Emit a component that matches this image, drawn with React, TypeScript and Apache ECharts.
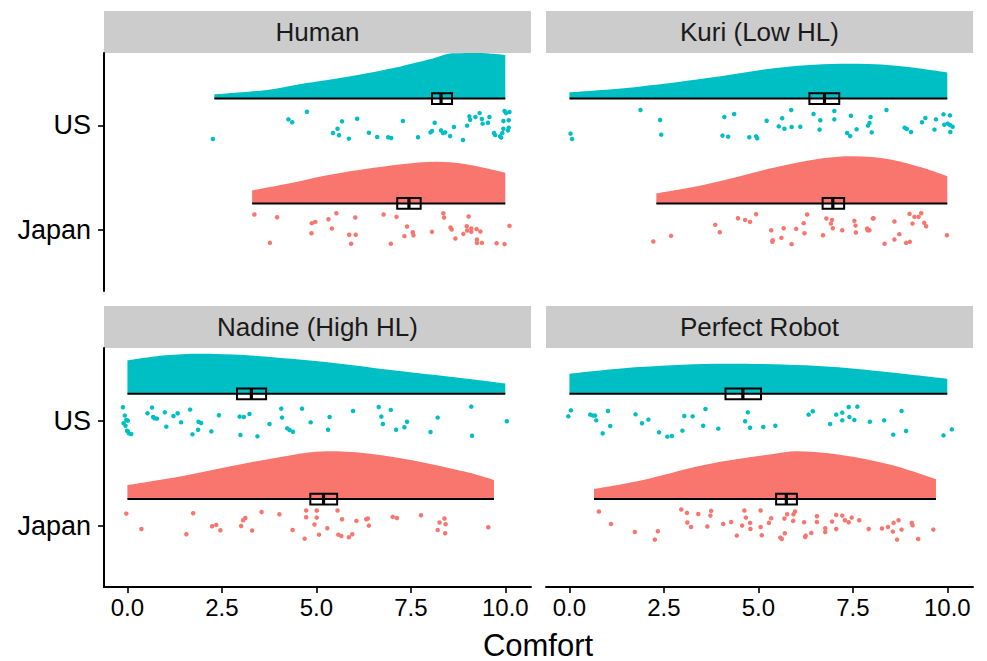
import React, { useEffect, useRef } from "react";
import * as echarts from "echarts";

const facetTitles = ["Human", "Kuri (Low HL)", "Nadine (High HL)", "Perfect Robot"];
const countryLabels: Record<number, string> = { 1: "Japan", 2: "US" };
const xTicks = [0, 2.5, 5, 7.5, 10];
const yTicks = [1, 2];
const CYAN = "#00BFC4";
const SALMON = "#F8766D";
const NUDGE = 0.255;
const BOX_HALF = 0.051;

// half-violin density profiles: [comfort, height in y units]
const humanUSDensity = [[2.3, 0.04], [3.7, 0.083], [4.7, 0.146], [5.5, 0.19], [6.3, 0.24], [7.2, 0.305], [8.1, 0.384], [8.6, 0.432], [9.3, 0.435], [10, 0.416]];
const humanJPDensity = [[3.3, 0.124], [4.4, 0.2], [5.4, 0.276], [7.2, 0.371], [8.2, 0.397], [9.0, 0.371], [10, 0.292]];
const kuriUSDensity = [[0, 0.06], [1.85, 0.114], [3.6, 0.193], [5.4, 0.289], [6.7, 0.327], [7.6, 0.333], [8.9, 0.305], [10, 0.25]];
const kuriJPDensity = [[2.3, 0.095], [3.6, 0.18], [5.4, 0.34], [6.7, 0.43], [7.5, 0.45], [8.5, 0.42], [9.35, 0.34], [10, 0.26]];
const nadineUSDensity = [[0, 0.317], [1.0, 0.365], [1.9, 0.381], [2.8, 0.374], [3.7, 0.352], [5.4, 0.295], [7.2, 0.216], [9.0, 0.143], [10, 0.098]];
const nadineJPDensity = [[0, 0.133], [1.5, 0.222], [2.8, 0.317], [4.1, 0.403], [5.3, 0.454], [6.3, 0.435], [7.6, 0.365], [9.0, 0.254], [9.7, 0.181]];
const perfectUSDensity = [[0, 0.19], [1.85, 0.254], [4.15, 0.286], [6.25, 0.27], [8.0, 0.222], [10, 0.143]];
const perfectJPDensity = [[0.65, 0.095], [1.85, 0.174], [3.6, 0.327], [5.4, 0.429], [6.0, 0.454], [7.15, 0.422], [8.5, 0.327], [9.7, 0.19]];

// summaries: [min, max, mean - se, mean, mean + se]
const humanUSSummary = [2.3, 10, 8.06, 8.3, 8.59];
const humanJPSummary = [3.3, 10, 7.14, 7.45, 7.76];
const kuriUSSummary = [0, 10, 6.35, 6.75, 7.14];
const kuriJPSummary = [2.3, 10, 6.7, 6.97, 7.27];
const nadineUSSummary = [0, 10, 2.9, 3.28, 3.67];
const nadineJPSummary = [0, 9.7, 4.84, 5.19, 5.55];
const perfectUSSummary = [0, 10, 4.13, 4.59, 5.07];
const perfectJPSummary = [0.65, 9.7, 5.47, 5.74, 6.02];

// raw points: [comfort, vertical jitter]
const humanUSPoints = [[2.26,-0.13],[4.26,0.057],[4.36,0.029],[4.75,0.13],[5.44,-0.073],[5.56,-0.032],[5.6,-0.095],[5.68,0.038],[5.86,-0.127],[6.08,0.063],[6.39,-0.07],[6.61,-0.111],[6.9,-0.114],[6.98,-0.121],[7.29,0.041],[7.69,-0.114],[8.02,-0.067],[8.06,-0.054],[8.13,0.025],[8.3,-0.048],[8.35,-0.073],[8.41,-0.067],[8.54,-0.102],[8.64,-0.016],[8.88,-0.14],[8.99,-0.003],[9.05,0.086],[9.07,0.054],[9.21,0.079],[9.32,0.117],[9.38,0.06],[9.4,0.016],[9.54,0.025],[9.58,0.079],[9.7,-0.073],[9.73,-0.092],[9.86,-0.105],[9.89,-0.117],[9.92,-0.073],[9.95,0.041],[9.95,-0.032],[9.98,0.137],[10.02,0.117],[10.09,0.048],[10.09,-0.022],[10.11,0.127],[10.07,-0.048]];
const humanJPPoints = [[3.36,0.149],[3.96,0.124],[3.77,-0.121],[4.88,0.067],[4.97,0.079],[4.87,-0.029],[5.32,0.105],[5.41,0.016],[5.53,0.162],[5.87,-0.044],[6.03,0.121],[6.04,-0.044],[5.92,-0.13],[6.78,0.149],[6.97,-0.13],[7.12,0.127],[7.4,0.035],[7.33,-0.057],[7.55,-0.019],[7.57,-0.048],[8.06,-0.016],[8.36,0.162],[8.38,0.121],[8.55,0.025],[8.58,0.006],[8.68,-0.079],[8.89,-0.035],[8.98,0.038],[9.03,0.13],[8.99,-0.003],[9.1,0.016],[9.1,-0.016],[9.24,0.01],[9.34,-0.013],[9.25,-0.089],[9.25,-0.121],[9.38,-0.121],[9.77,-0.124],[9.98,-0.133],[10.11,0.041]];
const kuriUSPoints = [[0.03,-0.079],[0.07,-0.13],[1.88,0.146],[2.4,0.051],[2.43,-0.089],[4.1,0.079],[4.36,0.108],[4.05,-0.098],[4.2,-0.108],[4.76,-0.114],[4.94,-0.105],[4.97,-0.124],[5.22,0.044],[5.54,-0.01],[5.63,0.067],[5.69,-0.032],[5.88,-0.016],[5.87,0.146],[6.11,-0.013],[6.46,0.108],[6.64,0.048],[6.62,-0.041],[7.01,0.137],[7.01,0.057],[7.45,0.092],[7.35,-0.073],[7.43,-0.102],[7.6,-0.038],[7.97,0.079],[7.94,0.022],[7.9,-0.003],[8.0,-0.067],[8.39,0.146],[8.87,-0.022],[8.93,-0.035],[9.04,-0.063],[9.33,0.029],[9.42,0.07],[9.66,-0.041],[9.7,0.057],[9.9,0.105],[10.07,0.095],[9.92,0.006],[10.01,0.016],[10.07,0.003],[10.14,-0.013],[10.08,-0.063]];
const kuriJPPoints = [[2.22,-0.108],[2.69,-0.054],[3.86,0.051],[3.98,-0.019],[4.46,0.114],[4.65,0.098],[4.78,0.079],[4.94,0.152],[5.34,0.0],[5.38,-0.095],[5.37,-0.111],[5.61,-0.073],[5.67,0.019],[5.88,-0.133],[6.0,0.013],[6.2,0.067],[6.22,-0.029],[6.29,0.149],[6.71,-0.048],[6.8,0.111],[6.95,0.098],[6.92,0.063],[6.97,0.019],[7.22,0.0],[7.54,0.089],[7.57,0.044],[7.58,-0.022],[7.88,0.016],[7.94,0.0],[7.89,0.0],[8.03,0.111],[8.05,0.114],[8.34,-0.13],[8.6,0.083],[8.6,-0.089],[8.73,-0.038],[8.91,-0.121],[9.0,0.156],[9.01,-0.111],[9.08,0.063],[9.13,0.127],[9.24,0.127],[9.31,0.162],[9.39,0.07],[9.44,0.038],[9.99,-0.048]];
const nadineUSPoints = [[-0.12,0.127],[-0.07,0.048],[-0.03,0.006],[-0.1,-0.025],[0.01,0.0],[-0.05,-0.048],[-0.01,-0.095],[0.04,-0.121],[0.1,-0.127],[0.01,-0.102],[0.53,0.07],[0.65,0.124],[0.68,0.035],[0.72,0.022],[0.78,0.019],[0.99,0.079],[1.03,-0.057],[1.22,0.044],[1.33,0.07],[1.42,-0.016],[1.66,0.105],[1.88,-0.01],[1.95,-0.022],[1.87,-0.086],[1.72,-0.13],[2.22,-0.102],[2.42,0.051],[2.97,0.038],[3.08,0.035],[3.23,0.063],[2.99,-0.137],[3.44,-0.149],[3.76,-0.032],[4.07,0.114],[4.09,0.029],[4.23,-0.073],[4.29,-0.089],[4.38,-0.105],[4.62,0.114],[4.85,-0.016],[5.35,0.035],[5.31,-0.086],[5.97,0.092],[6.65,0.13],[6.72,0.038],[6.76,-0.032],[6.97,0.102],[7.11,-0.086],[7.33,-0.063],[7.4,-0.01],[8.02,-0.108],[8.21,0.029],[9.1,0.133],[9.12,-0.143],[10.04,-0.006]];
const nadineJPPoints = [[-0.03,0.117],[0.37,-0.029],[1.56,-0.079],[1.74,0.121],[2.24,-0.003],[2.35,0.01],[2.46,-0.041],[3.01,0.0],[3.06,0.054],[3.12,0.076],[3.3,-0.044],[3.55,0.133],[4.02,0.111],[4.37,-0.038],[4.69,-0.121],[4.73,0.146],[4.73,0.083],[4.95,0.013],[5.01,0.146],[5.01,0.079],[5.07,-0.083],[5.29,-0.022],[5.56,0.146],[5.58,-0.083],[5.66,-0.095],[5.68,0.063],[5.86,-0.108],[5.95,-0.079],[6.06,0.048],[6.32,0.063],[6.36,0.07],[6.39,0.003],[7.02,0.086],[7.13,0.076],[7.77,0.102],[8.21,-0.038],[8.26,0.032],[8.39,0.07],[8.42,0.016],[8.41,-0.07],[9.55,-0.013]];
const perfectUSPoints = [[-0.03,0.041],[0.04,0.098],[0.55,0.057],[0.62,0.048],[0.68,0.048],[0.71,0.003],[1.02,0.092],[1.08,-0.051],[0.88,-0.121],[1.75,0.06],[1.92,-0.025],[2.09,0.01],[2.37,-0.111],[2.59,-0.152],[2.71,-0.146],[2.99,-0.095],[3.04,0.044],[3.26,0.041],[3.6,0.111],[3.54,-0.048],[3.94,-0.076],[4.65,-0.006],[4.72,0.079],[4.78,-0.067],[5.13,-0.06],[5.45,-0.048],[6.33,0.057],[6.44,0.089],[6.9,-0.032],[7.06,0.057],[7.22,0.003],[7.22,0.076],[7.39,0.13],[7.41,0.035],[7.54,0.006],[7.62,0.133],[7.95,-0.01],[8.33,0.003],[8.57,-0.133],[8.79,0.092],[8.91,-0.098],[9.9,-0.14],[10.12,-0.083]];
const perfectJPPoints = [[0.78,0.137],[1.1,0.019],[1.73,-0.057],[2.34,-0.051],[2.26,-0.13],[2.96,0.156],[3.11,0.124],[3.12,0.032],[3.22,-0.01],[3.41,0.114],[3.65,-0.006],[3.73,0.098],[3.75,0.143],[4.07,0.019],[4.28,0.038],[4.43,-0.092],[4.57,0.003],[4.63,0.146],[4.67,0.079],[4.78,0.029],[4.79,-0.029],[5.06,0.146],[5.06,-0.01],[5.09,-0.089],[5.28,0.029],[5.34,0.073],[5.58,-0.111],[5.62,-0.124],[5.69,0.07],[5.7,-0.07],[5.76,0.111],[5.92,0.048],[5.93,0.111],[5.97,0.137],[6.21,0.035],[6.24,-0.105],[6.25,-0.092],[6.4,-0.067],[6.55,0.038],[6.55,0.092],[6.77,-0.022],[6.77,-0.057],[6.95,0.041],[7.06,0.105],[7.06,-0.029],[7.22,0.098],[7.29,0.054],[7.39,0.035],[7.47,0.079],[7.67,0.054],[7.92,-0.029],[8.27,-0.025],[8.43,-0.01],[8.56,-0.054],[8.58,0.029],[8.67,-0.13],[8.71,0.054],[8.79,-0.035],[9.06,0.029],[9.08,0.006],[9.23,-0.124],[9.63,-0.035]];

type Group = { y: number; color: string; density: number[][]; summary: number[]; points: number[][] };
const panels: { title: string; groups: Group[] }[] = [
  { title: facetTitles[0], groups: [
    { y: 2, color: CYAN, density: humanUSDensity, summary: humanUSSummary, points: humanUSPoints },
    { y: 1, color: SALMON, density: humanJPDensity, summary: humanJPSummary, points: humanJPPoints } ] },
  { title: facetTitles[1], groups: [
    { y: 2, color: CYAN, density: kuriUSDensity, summary: kuriUSSummary, points: kuriUSPoints },
    { y: 1, color: SALMON, density: kuriJPDensity, summary: kuriJPSummary, points: kuriJPPoints } ] },
  { title: facetTitles[2], groups: [
    { y: 2, color: CYAN, density: nadineUSDensity, summary: nadineUSSummary, points: nadineUSPoints },
    { y: 1, color: SALMON, density: nadineJPDensity, summary: nadineJPSummary, points: nadineJPPoints } ] },
  { title: facetTitles[3], groups: [
    { y: 2, color: CYAN, density: perfectUSDensity, summary: perfectUSSummary, points: perfectUSPoints },
    { y: 1, color: SALMON, density: perfectJPDensity, summary: perfectJPSummary, points: perfectJPPoints } ] },
];

const FONT = "'Liberation Sans', Arial, Helvetica, sans-serif";
const gridBoxes = [
  { left: 104, top: 53, width: 427, height: 238 },
  { left: 546, top: 53, width: 427, height: 238 },
  { left: 104, top: 348, width: 427, height: 239 },
  { left: 546, top: 348, width: 427, height: 239 },
];
const STRIP_H = 42;

function buildOption() {
  const grid: any[] = [];
  const xAxis: any[] = [];
  const yAxis: any[] = [];
  const series: any[] = [];
  const graphic: any[] = [];

  panels.forEach((p, i) => {
    const g = gridBoxes[i];
    grid.push({ ...g, containLabel: false });
    const bottom = i >= 2;
    const leftCol = i % 2 === 0;
    xAxis.push({
      gridIndex: i, type: "value", min: -0.62, max: 10.68,
      splitLine: { show: false },
      axisLine: { show: bottom, onZero: false, lineStyle: { color: "#000", width: 2 } },
      axisTick: { show: bottom, customValues: xTicks, length: 6, lineStyle: { color: "#000", width: 1.6 } },
      axisLabel: {
        show: bottom, customValues: xTicks, margin: 8, color: "#000", fontSize: 24, fontFamily: FONT,
        formatter: (v: number) => v.toFixed(1),
      },
    });
    yAxis.push({
      gridIndex: i, type: "value", min: 0.42, max: 2.69,
      splitLine: { show: false },
      axisLine: { show: leftCol, onZero: false, lineStyle: { color: "#000", width: 2 } },
      axisTick: { show: leftCol, customValues: yTicks, length: 6, lineStyle: { color: "#000", width: 1.6 } },
      axisLabel: {
        show: leftCol, customValues: yTicks, margin: 13, color: "#000", fontSize: 27, fontFamily: FONT,
        formatter: (v: number) => countryLabels[Math.round(v)] || "",
      },
    });

    graphic.push({
      type: "rect", z: 0,
      shape: { x: g.left, y: g.top - STRIP_H, width: g.width, height: STRIP_H },
      style: { fill: "#CCCCCC" },
    });
    graphic.push({
      type: "text", z: 1,
      x: g.left + g.width / 2, y: g.top - STRIP_H / 2,
      style: { text: p.title, fill: "#1a1a1a", font: `26px ${FONT}`, textAlign: "center", textVerticalAlign: "middle", verticalAlign: "middle" },
    });

    p.groups.forEach((grp) => {
      const base = grp.y + NUDGE;
      series.push({
        type: "line", xAxisIndex: i, yAxisIndex: i, smooth: 0.35, symbol: "none", silent: true,
        data: grp.density.map(([x, h]) => [x, base + h]),
        lineStyle: { width: 0, color: grp.color },
        areaStyle: { color: grp.color, opacity: 1, origin: base },
        z: 1,
      });
      series.push({
        type: "custom", xAxisIndex: i, yAxisIndex: i, silent: true, z: 3,
        encode: { x: [0, 1, 2, 3, 4], y: 5 },
        data: [[...grp.summary, base]],
        renderItem: (_params: any, api: any) => {
          const mn = api.value(0), mx = api.value(1), lo = api.value(2), mean = api.value(3), hi = api.value(4), b = api.value(5);
          const p1 = api.coord([mn, b]);
          const p2 = api.coord([mx, b]);
          const bl = api.coord([lo, b - BOX_HALF]);
          const tr = api.coord([hi, b + BOX_HALF]);
          const m1 = api.coord([mean, b - BOX_HALF]);
          const m2 = api.coord([mean, b + BOX_HALF]);
          return {
            type: "group",
            children: [
              { type: "line", shape: { x1: p1[0], y1: p1[1], x2: p2[0], y2: p2[1] }, style: { stroke: "#000", lineWidth: 2 } },
              { type: "rect", shape: { x: bl[0], y: tr[1], width: tr[0] - bl[0], height: bl[1] - tr[1] }, style: { fill: "none", stroke: "#000", lineWidth: 2 } },
              { type: "line", shape: { x1: m1[0], y1: m1[1], x2: m2[0], y2: m2[1] }, style: { stroke: "#000", lineWidth: 3.2 } },
            ],
          };
        },
      });
      series.push({
        type: "scatter", xAxisIndex: i, yAxisIndex: i, silent: true, z: 4,
        symbolSize: 4.5,
        itemStyle: { color: grp.color, opacity: 1 },
        data: grp.points.map(([x, j]) => [x, grp.y + j]),
      });
    });
  });

  graphic.push({
    type: "text", x: 538, y: 645,
    style: { text: "Comfort", fill: "#000", font: `31px ${FONT}`, textAlign: "center", textVerticalAlign: "middle", verticalAlign: "middle" },
  });

  return { animation: false, backgroundColor: "#fff", grid, xAxis, yAxis, series, graphic };
}

export default function App() {
  const ref = useRef<HTMLDivElement>(null);
  useEffect(() => {
    document.body.style.margin = "0";
    if (!ref.current) return;
    const chart = echarts.init(ref.current, undefined, { renderer: "svg" });
    chart.setOption(buildOption() as any);
    return () => chart.dispose();
  }, []);
  return <div ref={ref} style={{ width: 987, height: 661 }} />;
}
